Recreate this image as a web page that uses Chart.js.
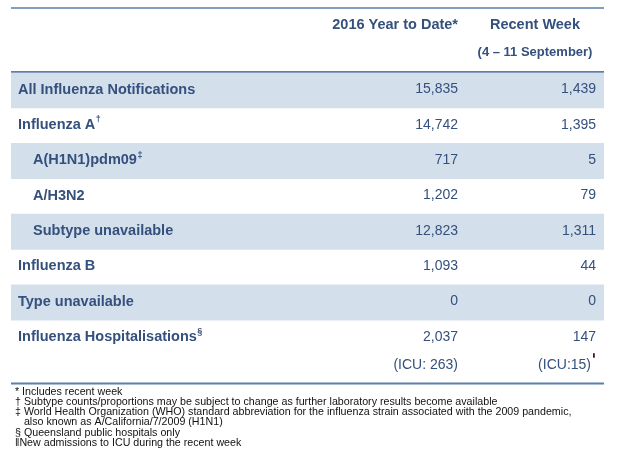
<!DOCTYPE html>
<html lang="en">
<head>
<meta charset="UTF-8">
<title>Queensland Influenza Notifications — 2016</title>
<style>
  *{box-sizing:border-box;margin:0;padding:0}
  body{background:#fff;width:619px;height:469px;overflow:hidden}
  canvas{display:block}
</style>
</head>
<body>

<canvas id="fluTable" width="619" height="469"></canvas>

<script src="https://cdn.jsdelivr.net/npm/chart.js@4.4.0"></script>
<script>
/* Rows */
const rowLabels = ["All Influenza Notifications","Influenza A","A(H1N1)pdm09","A/H3N2","Subtype unavailable","Influenza B","Type unavailable","Influenza Hospitalisations"];
const rowMarks  = ["","†","‡","","","","","§"];
const rowLevel  = [0,0,1,1,1,0,0,0];

/* Values */
const yearToDate = [15835,14742,717,1202,12823,1093,0,2037];
const recentWeek = [1439,1395,5,79,1311,44,0,147];
const icuYearToDate = 263;
const icuRecentWeek = 15;

/* Headers and notes */
const columnHeaders = ["2016 Year to Date*","Recent Week"];
const weekRange = "(4 – 11 September)";
const footnotes = [
  "* Includes recent week",
  "† Subtype counts/proportions may be subject to change as further laboratory results become available",
  "‡ World Health Organization (WHO) standard abbreviation for the influenza strain associated with the 2009 pandemic,",
  "   also known as A/California/7/2009 (H1N1)",
  "§ Queensland public hospitals only",
  "‖New admissions to ICU during the recent week"
];

const TABLE_W = 593;
const BLUE = '#34507d', LINE = '#5b7fa8', SHADE = '#d4dfec';
const FONT = '"Liberation Sans", Arial, sans-serif';
const fmt = v => v.toLocaleString('en-US');

/* zebra shading: every other row, full table width */
const bands = rowLabels.map((_, i) => i % 2 === 0 ? [0, TABLE_W] : null);

const tableText = {
  id: 'tableText',
  afterDatasetsDraw(chart) {
    const {ctx, chartArea: a, scales: {x, y}} = chart;
    const col1 = x.getPixelForValue(447), col2 = x.getPixelForValue(585);
    ctx.save();

    // rules
    ctx.strokeStyle = LINE;
    [[8, 1.6], [a.top - 0.9, 1.8], [383.5, 1.8]].forEach(([yy, w]) => {
      ctx.lineWidth = w;
      ctx.beginPath(); ctx.moveTo(a.left, yy); ctx.lineTo(a.right, yy); ctx.stroke();
    });

    // headers
    ctx.fillStyle = BLUE;
    ctx.textBaseline = 'middle';
    ctx.font = 'bold 14.5px ' + FONT;
    ctx.textAlign = 'right';
    ctx.fillText(columnHeaders[0], col1, 25);
    ctx.textAlign = 'center';
    const hc = x.getPixelForValue(524);
    ctx.fillText(columnHeaders[1], hc, 25);
    ctx.font = 'bold 13px ' + FONT;
    ctx.fillText(weekRange, hc, 52);

    // rows
    rowLabels.forEach((lab, i) => {
      const cy = y.getPixelForValue(i) - 0.8;
      ctx.fillStyle = BLUE;
      ctx.textAlign = 'left';
      ctx.font = 'bold 14.5px ' + FONT;
      const lx = a.left + 7 + rowLevel[i] * 15;
      ctx.fillText(lab, lx, cy);
      if (rowMarks[i]) {
        const w = ctx.measureText(lab).width;
        ctx.font = 'bold 9px ' + FONT;
        ctx.fillText(rowMarks[i], lx + w + 0.5, cy - 5);
      }
      ctx.font = '14px ' + FONT;
      ctx.textAlign = 'right';
      ctx.fillText(fmt(yearToDate[i]), col1, cy);
      ctx.fillText(fmt(recentWeek[i]), col2, cy);
    });

    // ICU line under hospitalisations
    const iy = y.getPixelForValue(rowLabels.length - 1) + 27.5;
    ctx.font = '14px ' + FONT;
    ctx.fillText('(ICU: ' + icuYearToDate + ')', col1, iy);
    const icuTxt = '(ICU:' + icuRecentWeek + ')';
    const ix = x.getPixelForValue(580);
    ctx.fillText(icuTxt, ix, iy);
    ctx.fillStyle = '#5c0b1e';
    ctx.fillRect(ix + 2, iy - 12, 1.8, 4.5);

    // footnotes (narrow-looking print: taller glyphs squeezed sideways)
    ctx.fillStyle = '#111';
    ctx.textAlign = 'left';
    ctx.font = '11.8px ' + FONT;
    footnotes.forEach((t, k) => {
      ctx.save();
      ctx.translate(15, 391.5 + k * 10.2);
      ctx.scale(0.905, 1);
      ctx.fillText(t, 0, 0);
      ctx.restore();
    });

    ctx.restore();
  }
};

new Chart(document.getElementById('fluTable'), {
  type: 'bar',
  data: {
    labels: rowLabels,
    datasets: [{data: bands, backgroundColor: SHADE, borderWidth: 0,
                barPercentage: 1, categoryPercentage: 1}]
  },
  options: {
    indexAxis: 'y',
    responsive: false,
    animation: false,
    events: [],
    layout: {padding: {left: 11, right: 15, top: 72.7, bottom: 469 - 355.4}},
    plugins: {legend: {display: false}, tooltip: {enabled: false}},
    scales: {
      x: {display: false, min: 0, max: TABLE_W},
      y: {display: false}
    }
  },
  plugins: [tableText]
});
</script>

</body>
</html>
